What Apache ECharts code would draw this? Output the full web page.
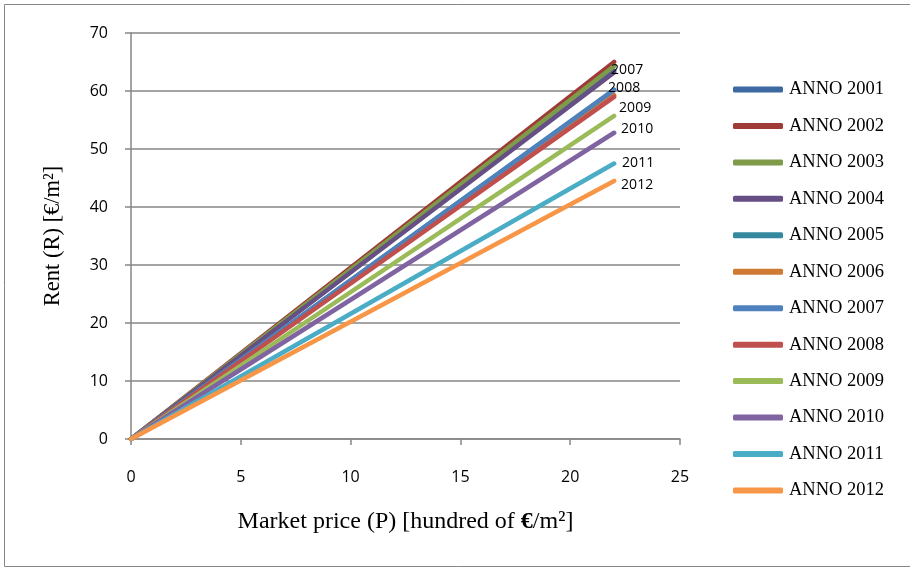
<!DOCTYPE html>
<html>
<head>
<meta charset="utf-8">
<script src="https://cdn.jsdelivr.net/npm/echarts@6/dist/echarts.min.js"></script>
<style>
  html, body { margin: 0; padding: 0; background: #fff; }
  #chart { width: 910px; height: 571px; }
</style>
</head>
<body>
<div id="chart"></div>
<script>
// Market price (hundred of €/m²) at the two ends of each line
const marketPrice = [0, 22];

const years = ['2001', '2002', '2003', '2004', '2005', '2006',
               '2007', '2008', '2009', '2010', '2011', '2012'];

// Rent (€/m²) at each market price above, one pair per year
const rentByYear = [
  [0, 63.5],
  [0, 65.0],
  [0, 64.3],
  [0, 63.2],
  [0, 60.2],
  [0, 59.3],
  [0, 60.2],
  [0, 59.0],
  [0, 55.7],
  [0, 52.8],
  [0, 47.5],
  [0, 44.5]
];

const lineColors = ['#3C6AA0', '#9E3B37', '#7F9A48', '#664F85', '#35899F', '#D07B34',
                    '#4F81BD', '#C0504D', '#9BBB59', '#8064A2', '#4BACC6', '#F79646'];

// Years whose line carries an end label, with the label's nudge from the line end
const labelledYears = ['2007', '2008', '2009', '2010', '2011', '2012'];
const labelNudge = [[-3, -20], [-6, -9], [5, -8], [7, -4], [8, 0], [7, 4]];

const xTicks = [0, 5, 10, 15, 20, 25];
const yTicks = [0, 10, 20, 30, 40, 50, 60, 70];

const gray = '#868686';
const serif = '"Liberation Serif", "Times New Roman", serif';
const sans = '"Open Sans", "Liberation Sans", sans-serif';

const series = years.map((year, i) => {
  const li = labelledYears.indexOf(year);
  return {
    name: 'ANNO ' + year,
    type: 'line',
    data: marketPrice.map((p, k) => [p, rentByYear[i][k]]),
    showSymbol: false,
    symbol: 'none',
    animation: false,
    color: lineColors[i],
    lineStyle: { width: 4.5, cap: 'round', join: 'round', color: lineColors[i] },
    emphasis: { disabled: true },
    endLabel: li < 0 ? { show: false } : {
      show: true,
      formatter: year,
      distance: 0,
      offset: labelNudge[li],
      color: '#000',
      fontFamily: sans,
      fontSize: 14
    },
    z: 2 + i
  };
});

const chart = echarts.init(document.getElementById('chart'), null, { renderer: 'canvas' });
chart.setOption({
  animation: false,
  backgroundColor: '#fff',
  graphic: [{
    type: 'rect',
    shape: { x: 4.5, y: 4.5, width: 920, height: 562 },
    style: { fill: 'none', stroke: gray, lineWidth: 1 },
    silent: true,
    z: -1
  }],
  grid: { left: 131, right: 230, top: 33, bottom: 132, containLabel: false },
  xAxis: {
    type: 'value',
    min: xTicks[0],
    max: xTicks[xTicks.length - 1],
    interval: xTicks[1] - xTicks[0],
    name: '{t|Market price (P) [hundred of }{b|€}{t|/m²]}',
    nameLocation: 'middle',
    nameGap: 71,
    nameTextStyle: {
      rich: {
        t: { fontFamily: serif, fontSize: 24, color: '#000' },
        b: { fontFamily: serif, fontSize: 24, color: '#000', fontWeight: 'bold' }
      }
    },
    axisLine: { show: true, onZero: false, lineStyle: { color: gray, width: 1.5 } },
    axisTick: { show: true, inside: false, length: 6, lineStyle: { color: gray, width: 1.5 } },
    axisLabel: { margin: 30, color: '#000', fontFamily: sans, fontSize: 16 },
    splitLine: { show: false }
  },
  yAxis: {
    type: 'value',
    min: yTicks[0],
    max: yTicks[yTicks.length - 1],
    interval: yTicks[1] - yTicks[0],
    name: 'Rent (R) [€/m²]',
    nameLocation: 'middle',
    nameGap: 66,
    nameTextStyle: { fontFamily: serif, fontSize: 22.5, color: '#000' },
    axisLine: { show: true, lineStyle: { color: gray, width: 1.5 } },
    axisTick: { show: true, inside: false, length: 6, lineStyle: { color: gray, width: 1.5 } },
    axisLabel: { margin: 23, color: '#000', fontFamily: sans, fontSize: 16 },
    splitLine: { show: true, lineStyle: { color: gray, width: 1.5 } }
  },
  legend: {
    orient: 'vertical',
    left: 728,
    top: 75,
    itemWidth: 50,
    itemHeight: 6,
    itemGap: 17.45,
    icon: 'roundRect',
    data: years.map(y => 'ANNO ' + y),
    textStyle: { fontFamily: serif, fontSize: 18.5, color: '#000', lineHeight: 18, padding: [0, 0, 0, 1] },
    selectedMode: false
  },
  tooltip: { show: false },
  series: series
});
</script>
</body>
</html>
